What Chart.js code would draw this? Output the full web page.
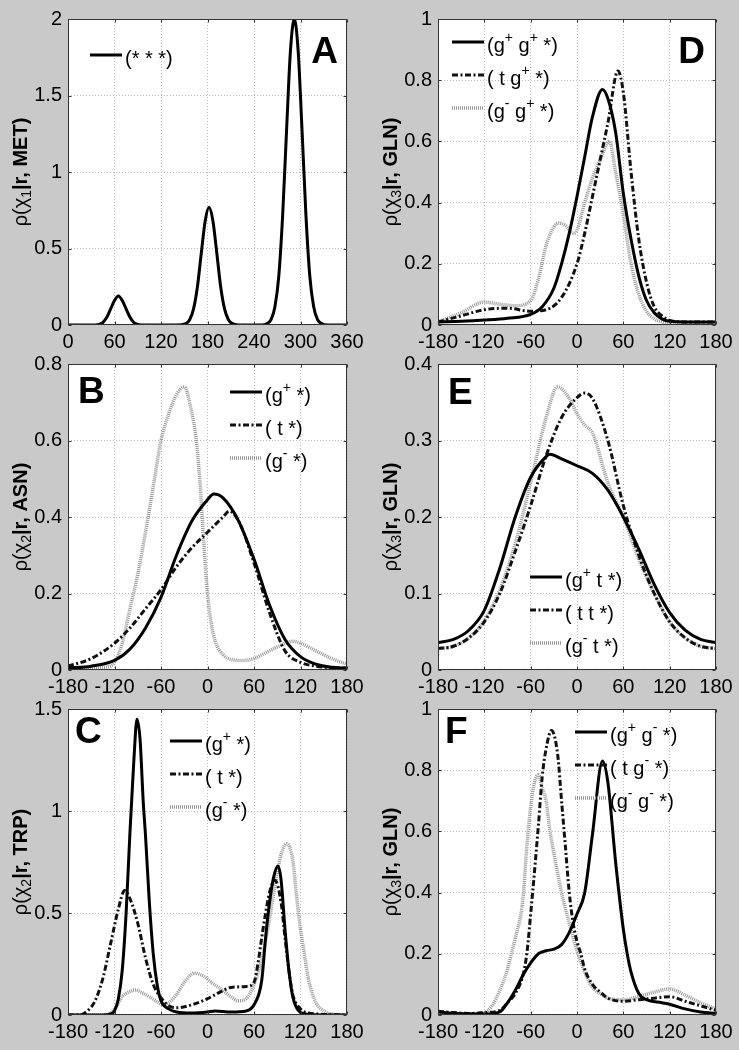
<!DOCTYPE html>
<html>
<head>
<meta charset="utf-8">
<script src="https://cdn.jsdelivr.net/npm/chart.js@4.4.1/dist/chart.umd.min.js"></script>
<style>
  body { margin: 0; background: #c9c9c9; width: 739px; height: 1050px; position: relative; overflow: hidden; }
  .panel { position: absolute; width: 370px; height: 350px; }
</style>
</head>
<body>
<div class="panel" style="left:0;top:0"><canvas id="cA" width="370" height="350"></canvas></div>
<div class="panel" style="left:370px;top:0"><canvas id="cD" width="370" height="350"></canvas></div>
<div class="panel" style="left:0;top:345px"><canvas id="cB" width="370" height="350"></canvas></div>
<div class="panel" style="left:370px;top:345px"><canvas id="cE" width="370" height="350"></canvas></div>
<div class="panel" style="left:0;top:690px"><canvas id="cC" width="370" height="350"></canvas></div>
<div class="panel" style="left:370px;top:690px"><canvas id="cF" width="370" height="350"></canvas></div>
<script>
// -------- Datos --------
// A: chi1, MET
const aAngles = [0,30,40,45,50,55,60,65,70,75,80,85,90,100,140,152,157,162,167,172,177,182,187,192,197,202,207,212,220,250,257,262,267,272,277,282,287,292,297,302,307,312,317,322,327,335,360];
const aAll = [0,0,0.004,0.016,0.05,0.105,0.16,0.19,0.16,0.105,0.05,0.016,0.004,0,0,0.009,0.034,0.105,0.25,0.47,0.68,0.77,0.68,0.47,0.25,0.105,0.034,0.009,0,0,0.01,0.035,0.12,0.32,0.72,1.27,1.79,2.0,1.79,1.27,0.72,0.32,0.12,0.035,0.01,0,0];

// B: chi2, ASN
const bGpAngles = [-180,-150,-120,-100,-80,-60,-40,-20,0,8,20,40,60,80,100,120,140,160,180];
const bGp = [0.005,0.01,0.025,0.055,0.11,0.19,0.3,0.39,0.445,0.46,0.45,0.39,0.29,0.17,0.08,0.035,0.015,0.007,0.005];
const bTAngles = [-180,-150,-120,-100,-80,-60,-40,-20,0,20,28,40,60,80,100,120,140,160,180];
const bT = [0.01,0.03,0.07,0.11,0.16,0.21,0.27,0.32,0.36,0.4,0.415,0.39,0.28,0.15,0.05,0.02,0.01,0.006,0.005];
const bGmAngles = [-180,-150,-130,-120,-110,-100,-90,-80,-70,-60,-50,-40,-30,-20,-15,-10,-5,0,5,10,20,30,45,60,75,90,110,120,140,160,180];
const bGm = [0.005,0.005,0.008,0.02,0.07,0.16,0.25,0.36,0.48,0.6,0.67,0.72,0.74,0.67,0.61,0.5,0.34,0.2,0.12,0.075,0.04,0.028,0.025,0.03,0.045,0.06,0.075,0.07,0.05,0.03,0.015];

// C: chi2, TRP
const cGpAngles = [-180,-135,-125,-120,-115,-110,-105,-100,-95,-91,-87,-83,-80,-75,-70,-65,-60,-50,-40,-20,0,10,30,50,60,70,75,80,85,91,95,100,105,110,115,120,130,180];
const cGp = [0,0,0.005,0.02,0.08,0.22,0.5,0.9,1.25,1.45,1.35,1.05,0.88,0.55,0.3,0.15,0.07,0.03,0.015,0.01,0.015,0.02,0.015,0.02,0.05,0.17,0.38,0.55,0.67,0.73,0.66,0.42,0.22,0.09,0.035,0.012,0.003,0];
const cTAngles = [-180,-165,-155,-145,-135,-125,-115,-107,-100,-90,-80,-70,-60,-50,-40,-20,0,20,30,50,60,65,70,75,80,87,95,100,105,110,120,130,180];
const cT = [0,0,0.02,0.07,0.18,0.35,0.52,0.61,0.57,0.45,0.28,0.15,0.085,0.045,0.035,0.05,0.08,0.12,0.135,0.14,0.16,0.25,0.38,0.5,0.6,0.66,0.55,0.38,0.22,0.1,0.03,0.01,0];
const cGmAngles = [-180,-130,-120,-110,-100,-93,-85,-75,-65,-58,-50,-40,-30,-17,-5,5,20,30,40,50,60,70,80,90,96,102,110,115,120,125,130,140,150,160,180];
const cGm = [0,0,0.03,0.09,0.115,0.123,0.11,0.09,0.065,0.05,0.06,0.1,0.16,0.205,0.19,0.16,0.12,0.09,0.07,0.08,0.15,0.27,0.47,0.7,0.8,0.84,0.76,0.58,0.42,0.3,0.18,0.06,0.02,0.005,0];

// D: chi3, GLN (g+ chi2)
const dGpAngles = [-180,-150,-120,-90,-60,-45,-30,-20,-10,0,10,20,33,40,50,60,70,80,90,100,110,120,140,180];
const dGp = [0.01,0.012,0.016,0.022,0.035,0.06,0.12,0.2,0.3,0.42,0.55,0.68,0.77,0.74,0.63,0.43,0.28,0.16,0.08,0.04,0.02,0.012,0.01,0.01];
const dTAngles = [-180,-150,-120,-90,-60,-40,-20,0,10,20,30,40,53,60,70,80,90,100,110,120,140,180];
const dT = [0.01,0.03,0.05,0.055,0.045,0.05,0.09,0.2,0.3,0.42,0.54,0.66,0.83,0.76,0.5,0.28,0.14,0.06,0.03,0.015,0.01,0.01];
const dGmAngles = [-180,-150,-120,-100,-80,-60,-50,-40,-30,-24,-15,-5,0,10,20,30,42,50,60,70,80,90,100,110,120,180];
const dGm = [0.01,0.04,0.075,0.068,0.063,0.08,0.15,0.26,0.32,0.333,0.325,0.3,0.31,0.4,0.48,0.54,0.6,0.5,0.36,0.2,0.1,0.045,0.02,0.01,0.005,0];

// E: chi3, GLN (t chi2)
const eGpAngles = [-180,-160,-140,-120,-100,-80,-60,-40,-35,-20,0,20,40,60,80,100,120,140,160,180];
const eGp = [0.036,0.04,0.052,0.078,0.133,0.2,0.252,0.279,0.282,0.276,0.267,0.257,0.235,0.2,0.158,0.112,0.075,0.052,0.04,0.036];
const eTAngles = [-180,-160,-140,-120,-100,-80,-60,-40,-20,0,10,20,40,60,80,100,120,140,160,180];
const eT = [0.028,0.031,0.042,0.063,0.1,0.155,0.215,0.28,0.33,0.356,0.362,0.355,0.3,0.215,0.15,0.1,0.063,0.042,0.031,0.028];
const eGmAngles = [-180,-160,-140,-120,-100,-80,-60,-40,-25,-10,0,10,20,40,60,80,100,120,140,160,180];
const eGm = [0.028,0.031,0.042,0.065,0.105,0.165,0.245,0.33,0.37,0.355,0.335,0.32,0.31,0.245,0.2,0.145,0.1,0.063,0.042,0.031,0.028];

// F: chi3, GLN (g- chi2)
const fGpAngles = [-180,-160,-140,-120,-100,-90,-80,-70,-60,-50,-40,-30,-20,-10,0,10,20,33,40,50,60,65,70,80,90,110,120,140,160,180];
const fGp = [0.01,0.006,0.004,0.003,0.01,0.04,0.08,0.13,0.17,0.2,0.21,0.215,0.23,0.27,0.33,0.4,0.59,0.83,0.76,0.5,0.28,0.2,0.14,0.07,0.05,0.04,0.035,0.02,0.01,0.005];
const fTAngles = [-180,-160,-140,-120,-100,-90,-80,-70,-65,-60,-55,-50,-45,-40,-33,-25,-20,-15,-10,-5,0,5,10,20,30,40,60,80,100,120,140,160,180];
const fT = [0.012,0.008,0.005,0.008,0.015,0.04,0.07,0.13,0.2,0.33,0.47,0.62,0.78,0.87,0.93,0.85,0.7,0.55,0.4,0.3,0.24,0.2,0.15,0.1,0.075,0.055,0.045,0.05,0.055,0.06,0.045,0.03,0.015];
const fGmAngles = [-180,-140,-120,-110,-100,-90,-85,-80,-70,-65,-60,-55,-50,-45,-40,-35,-30,-20,-10,0,10,20,30,40,60,80,100,120,140,160,180];
const fGm = [0.005,0.004,0.008,0.03,0.08,0.15,0.2,0.25,0.38,0.55,0.68,0.76,0.785,0.74,0.7,0.6,0.53,0.4,0.3,0.21,0.14,0.09,0.07,0.055,0.05,0.06,0.075,0.085,0.065,0.04,0.02];

// Etiquetas
const aLabels = ['(* * *)'];
const bLabels = ['(g^+ *)', '( t *)', '(g^- *)'];
const cLabels = ['(g^+ *)', '( t *)', '(g^- *)'];
const dLabels = ['(g^+ g^+ *)', '( t g^+ *)', '(g^- g^+ *)'];
const eLabels = ['(g^+ t *)', '( t t *)', '(g^- t *)'];
const fLabels = ['(g^+ g^- *)', '( t g^- *)', '(g^- g^- *)'];

const fullTicks = [0, 60, 120, 180, 240, 300, 360];
const halfTicks = [-180, -120, -60, 0, 60, 120, 180];

// -------- Estilos --------
const FONT = 'Liberation Sans, Arial, sans-serif';
const STYLES = [
  { borderColor: '#000', borderWidth: 3, borderDash: [] },
  { borderColor: '#111', borderWidth: 3, borderDash: [6, 2.5, 2, 2.5] },
  { borderColor: '#959595', borderWidth: 3.5, borderDash: [1, 1] }
];

function pts(xs, ys) {
  return xs.map((x, i) => ({ x: x, y: ys[i] }));
}

function labelRuns(label) {
  // "^+" / "^-" -> superíndice
  return label.split(/(\^[+-])/).filter(s => s).map(s =>
    s[0] === '^' ? { t: s[1], font: '14px ' + FONT, dy: -8 } : { t: s, font: '20px ' + FONT, dy: 0 });
}

function drawRuns(ctx, runs, x, y, center) {
  let total = 0;
  runs.forEach(r => { ctx.font = r.font; r.w = ctx.measureText(r.t).width; total += r.w; });
  let cx = center ? x - total / 2 : x;
  runs.forEach(r => { ctx.font = r.font; ctx.fillText(r.t, cx, y + r.dy); cx += r.w; });
}

const panelDecor = {
  id: 'panelDecor',
  beforeDraw(chart) {
    const { ctx, chartArea: a } = chart;
    ctx.save();
    ctx.fillStyle = '#fff';
    ctx.fillRect(a.left, a.top, a.right - a.left, a.bottom - a.top);
    ctx.restore();
  },
  afterDraw(chart, args, o) {
    const { ctx, chartArea: a } = chart;
    ctx.save();
    // marco + marcas hacia dentro
    ctx.strokeStyle = '#333';
    ctx.lineWidth = 1;
    const L = Math.round(a.left) + 0.5, T = Math.round(a.top) + 0.5;
    const R = Math.round(a.right) - 0.5, B = Math.round(a.bottom) - 0.5;
    ctx.strokeRect(L, T, R - L, B - T);
    ctx.beginPath();
    chart.scales.x.ticks.forEach(t => {
      const px = Math.round(chart.scales.x.getPixelForValue(t.value)) + 0.5;
      ctx.moveTo(px, B); ctx.lineTo(px, B - 3);
      ctx.moveTo(px, T); ctx.lineTo(px, T + 3);
    });
    chart.scales.y.ticks.forEach(t => {
      const py = Math.round(chart.scales.y.getPixelForValue(t.value)) + 0.5;
      ctx.moveTo(L, py); ctx.lineTo(L + 3, py);
      ctx.moveTo(R, py); ctx.lineTo(R - 3, py);
    });
    ctx.stroke();

    // letra del panel
    ctx.fillStyle = '#000';
    ctx.font = 'bold 37px ' + FONT;
    ctx.textBaseline = 'alphabetic';
    if (o.letterRight) {
      ctx.textAlign = 'right';
      ctx.fillText(o.letter, a.right - o.letterX, a.top + o.letterY);
    } else {
      ctx.textAlign = 'left';
      ctx.fillText(o.letter, a.left + o.letterX, a.top + o.letterY);
    }
    ctx.textAlign = 'left';

    // leyenda
    chart.data.datasets.forEach((ds, i) => {
      const y = a.top + o.legendY + i * 33;
      const x0 = a.left + o.legendX;
      ctx.save();
      ctx.strokeStyle = ds.borderColor;
      ctx.lineWidth = ds.borderWidth;
      ctx.setLineDash(ds.borderDash);
      ctx.beginPath();
      ctx.moveTo(x0, y);
      ctx.lineTo(x0 + 32, y);
      ctx.stroke();
      ctx.restore();
      ctx.fillStyle = '#000';
      ctx.textBaseline = 'middle';
      drawRuns(ctx, labelRuns(ds.label), x0 + 35, y + 4, false);
    });

    // título eje y
    ctx.translate(27, (a.top + a.bottom) / 2);
    ctx.rotate(-Math.PI / 2);
    ctx.textBaseline = 'alphabetic';
    drawRuns(ctx, [
      { t: 'ρ(χ', font: '20px ' + FONT, dy: 0 },
      { t: o.chi, font: '14px ' + FONT, dy: 4 },
      { t: '|r, ' + o.res + ')', font: 'bold 20px ' + FONT, dy: 0 }
    ], 0, 0, true);
    ctx.restore();
  }
};

function makePanel(id, series, labels, xTicks, yMax, yStep, deco, rightPad) {
  const datasets = series.map((s, i) => Object.assign({
    label: labels[i],
    data: pts(s[0], s[1]),
    pointRadius: 0,
    fill: false,
    cubicInterpolationMode: 'monotone'
  }, STYLES[i]));
  const tickFont = { family: FONT, size: 20 };
  new Chart(document.getElementById(id), {
    type: 'line',
    data: { datasets: datasets },
    options: {
      responsive: false,
      animation: false,
      devicePixelRatio: 1,
      layout: { padding: { top: 19, right: rightPad, bottom: 0, left: 0 } },
      plugins: { legend: { display: false }, tooltip: { enabled: false }, panelDecor: deco },
      scales: {
        x: {
          type: 'linear',
          min: xTicks[0], max: xTicks[xTicks.length - 1],
          afterBuildTicks: s => { s.ticks = xTicks.map(v => ({ value: v })); },
          afterFit: s => { s.height = 25; },
          ticks: { color: '#000', font: tickFont, padding: 5, maxRotation: 0, autoSkip: false, callback: v => String(v) },
          grid: { color: '#b8b8b8', drawTicks: false },
          border: { display: false, dash: [1, 2] }
        },
        y: {
          min: 0, max: yMax,
          afterFit: s => { s.width = 68; },
          ticks: { stepSize: yStep, color: '#000', font: tickFont, padding: 6, callback: v => String(+v.toFixed(2)) },
          grid: { color: '#b8b8b8', drawTicks: false },
          border: { display: false, dash: [1, 2] }
        }
      }
    },
    plugins: [panelDecor]
  });
}

makePanel('cA', [[aAngles, aAll]], aLabels, fullTicks, 2, 0.5,
  { letter: 'A', letterRight: true, letterX: 9, letterY: 44, legendX: 22, legendY: 36, chi: '1', res: 'MET' }, 23);
makePanel('cD', [[dGpAngles, dGp], [dTAngles, dT], [dGmAngles, dGm]], dLabels, halfTicks, 1, 0.2,
  { letter: 'D', letterRight: true, letterX: 11, letterY: 44, legendX: 14, legendY: 23, chi: '3', res: 'GLN' }, 24);
makePanel('cB', [[bGpAngles, bGp], [bTAngles, bT], [bGmAngles, bGm]], bLabels, halfTicks, 0.8, 0.2,
  { letter: 'B', letterRight: false, letterX: 10, letterY: 39, legendX: 162, legendY: 28, chi: '2', res: 'ASN' }, 23);
makePanel('cE', [[eGpAngles, eGp], [eTAngles, eT], [eGmAngles, eGm]], eLabels, halfTicks, 0.4, 0.1,
  { letter: 'E', letterRight: false, letterX: 10, letterY: 40, legendX: 92, legendY: 213, chi: '3', res: 'GLN' }, 24);
makePanel('cC', [[cGpAngles, cGp], [cTAngles, cT], [cGmAngles, cGm]], cLabels, halfTicks, 1.5, 0.5,
  { letter: 'C', letterRight: false, letterX: 7, letterY: 34, legendX: 102, legendY: 32, chi: '2', res: 'TRP' }, 23);
makePanel('cF', [[fGpAngles, fGp], [fTAngles, fT], [fGmAngles, fGm]], fLabels, halfTicks, 1, 0.2,
  { letter: 'F', letterRight: false, letterX: 7, letterY: 34, legendX: 137, legendY: 23, chi: '3', res: 'GLN' }, 24);
</script>
</body>
</html>
